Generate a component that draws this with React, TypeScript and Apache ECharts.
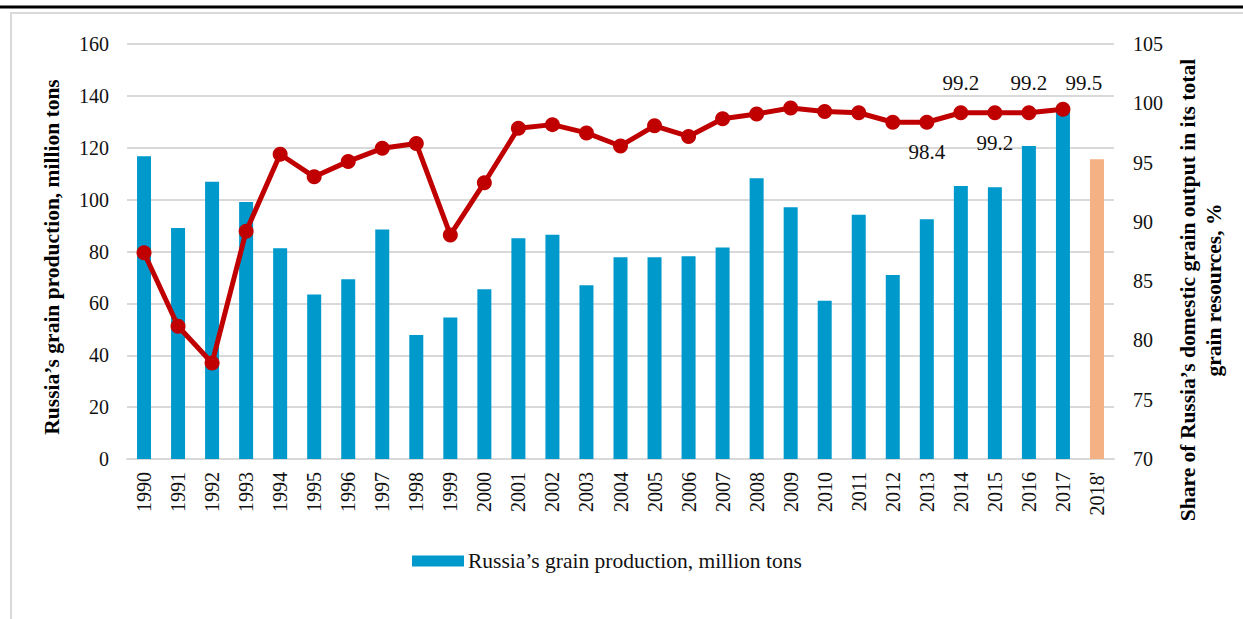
import React, { useEffect, useRef } from "react";
import * as echarts from "echarts";

const years = ["1990","1991","1992","1993","1994","1995","1996","1997","1998","1999","2000","2001","2002","2003","2004","2005","2006","2007","2008","2009","2010","2011","2012","2013","2014","2015","2016","2017","2018'"];
const production = [116.7, 89.1, 106.9, 99.1, 81.3, 63.4, 69.3, 88.5, 47.8, 54.6, 65.4, 85.1, 86.5, 67.0, 77.8, 77.8, 78.2, 81.5, 108.2, 97.1, 61.0, 94.2, 70.9, 92.4, 105.3, 104.8, 120.7, 135.5, 115.6];
const share = [87.4, 81.2, 78.1, 89.2, 95.7, 93.8, 95.1, 96.2, 96.6, 88.9, 93.3, 97.9, 98.2, 97.5, 96.4, 98.1, 97.2, 98.7, 99.1, 99.6, 99.3, 99.2, 98.4, 98.4, 99.2, 99.2, 99.2, 99.5];
const forecastYear = "2018'";
const labelTop = ["2014", "2016", "2017"];
const labelBottom = ["2013", "2015"];
const leftTicks = { min: 0, max: 160, interval: 20 };
const rightTicks = { min: 70, max: 105, interval: 5 };
const barName = "Russia’s grain production, million tons";
const lineName = "Share of Russia’s domestic grain output in its total grain resources, %";
const leftTitle = "Russia’s grain production, million tons";
const rightTitle = "Share of Russia’s domestic grain output in its total\ngrain resources, %";

const FONT = "'Liberation Serif', 'Times New Roman', serif";
const BLUE = "#0099CC";
const ORANGE = "#F4B183";
const RED = "#C00000";

export default function App() {
  const ref = useRef<HTMLDivElement>(null);
  useEffect(() => {
    if (!ref.current) return;
    const chart = echarts.init(ref.current, null, { renderer: "svg" });
    const barData = production.map((v, i) =>
      years[i] === forecastYear ? { value: v, itemStyle: { color: ORANGE } } : v
    );
    const lineData = share.map((v, i) => {
      const y = years[i];
      if (labelTop.includes(y)) {
        return {
          value: v,
          label: {
            show: true,
            position: "top",
            distance: y === "2017" ? 8 : 12,
            offset: y === "2017" ? [21, 0] : [0, 0],
          },
        };
      }
      if (labelBottom.includes(y)) {
        return { value: v, label: { show: true, position: "bottom", distance: 12 } };
      }
      return v;
    });
    chart.setOption({
      animation: false,
      textStyle: { fontFamily: FONT },
      grid: { left: 127, right: 129, top: 44, bottom: 160, containLabel: false },
      legend: {
        left: 407,
        top: 545,
        itemWidth: 52,
        itemHeight: 11,
        itemGap: 20,
        data: [{ name: barName, icon: "rect" }],
        textStyle: { fontFamily: FONT, fontSize: 21.5, color: "#111", lineHeight: 22, padding: [0, 0, 0, -1] },
      },
      xAxis: {
        type: "category",
        data: years,
        boundaryGap: true,
        axisTick: { show: false },
        axisLine: { show: true, lineStyle: { color: "#d9d9d9", width: 2 } },
        axisLabel: { rotate: 90, margin: 13, fontFamily: FONT, fontSize: 20, color: "#111", interval: 0 },
      },
      yAxis: [
        {
          type: "value",
          min: leftTicks.min,
          max: leftTicks.max,
          interval: leftTicks.interval,
          axisLine: { show: false },
          axisTick: { show: false },
          splitLine: { show: true, lineStyle: { color: "#d9d9d9", width: 2 } },
          axisLabel: { margin: 18, fontFamily: FONT, fontSize: 20, color: "#111" },
        },
        {
          type: "value",
          min: rightTicks.min,
          max: rightTicks.max,
          interval: rightTicks.interval,
          axisLine: { show: false },
          axisTick: { show: false },
          splitLine: { show: false },
          axisLabel: { margin: 19, fontFamily: FONT, fontSize: 20, color: "#111" },
        },
      ],
      series: [
        {
          name: barName,
          type: "bar",
          data: barData,
          barWidth: 14,
          itemStyle: { color: BLUE },
        },
        {
          name: lineName,
          type: "line",
          yAxisIndex: 1,
          data: lineData,
          symbol: "circle",
          symbolSize: 15,
          lineStyle: { color: RED, width: 5 },
          itemStyle: { color: RED },
          label: { show: false, fontFamily: FONT, fontSize: 21, color: "#111", formatter: "{c}" },
          z: 5,
        },
      ],
      graphic: [
        {
          type: "rect",
          z: -10,
          shape: { x: 11, y: 13, width: 1400, height: 800 },
          style: { fill: "none", stroke: "#d9d9d9", lineWidth: 2 },
        },
        {
          type: "line",
          shape: { x1: 0, y1: 7, x2: 1243, y2: 7 },
          style: { stroke: "#000", lineWidth: 3 },
        },
        {
          type: "text",
          x: 52,
          y: 257,
          rotation: Math.PI / 2,
          style: {
            text: leftTitle,
            font: `bold 21.5px ${FONT}`,
            fill: "#000",
            align: "center",
            verticalAlign: "middle",
          },
        },
        {
          type: "text",
          x: 1201,
          y: 290,
          rotation: Math.PI / 2,
          style: {
            text: rightTitle,
            font: `bold 21.5px ${FONT}`,
            fill: "#000",
            align: "center",
            verticalAlign: "middle",
            lineHeight: 26,
          },
        },
      ],
    });
    return () => chart.dispose();
  }, []);
  return (
    <div
      ref={ref}
      style={{ position: "absolute", left: 0, top: 0, width: 1243, height: 619, background: "#fff" }}
    />
  );
}
